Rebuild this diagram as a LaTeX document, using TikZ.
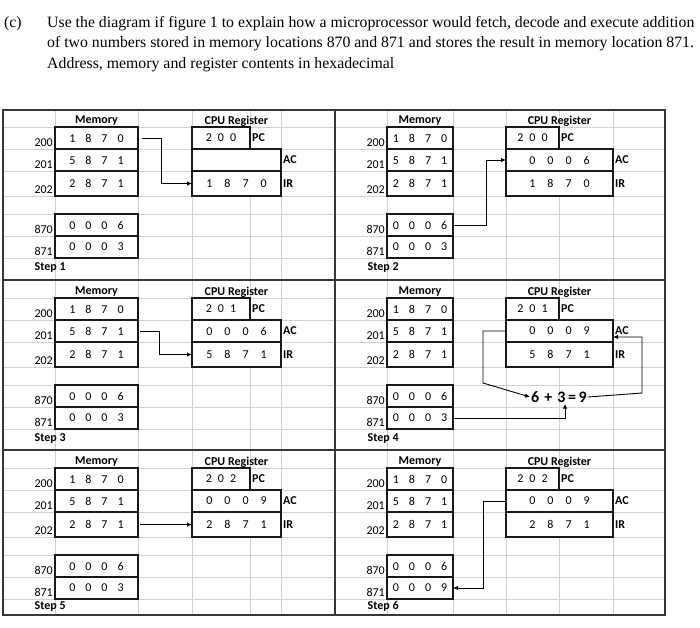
\documentclass[tikz,border=0pt]{standalone}
\usepackage{fontspec}
\setmainfont{Carlito}
\newfontfamily\timesfont{Liberation Serif}
\usetikzlibrary{arrows.meta, positioning}
\definecolor{gridgray}{RGB}{208,208,208}
\definecolor{framegray}{RGB}{55,55,55}

\begin{document}
\begin{tikzpicture}[
  x=1pt, y=-1pt,
  cell/.style={rectangle, draw=black!90, fill=white, line width=1.3pt, outer sep=0pt,
               inner sep=0pt, minimum height=22pt,
               font={\fontsize{12}{14}\selectfont\spaceskip=10pt}},
  memL/.style={cell, minimum width=83pt},
  memR/.style={cell, minimum width=66pt},
  pcL/.style={cell, minimum width=58pt, font={\fontsize{12}{14}\selectfont\spaceskip=6pt}},
  pcR/.style={cell, minimum width=53pt, font={\fontsize{12}{14}\selectfont\spaceskip=6pt}},
  regL/.style={cell, minimum width=89pt, font={\fontsize{12}{14}\selectfont\spaceskip=12pt}},
  regR/.style={cell, minimum width=107pt, font={\fontsize{12}{14}\selectfont\spaceskip=12pt}},
  addr/.style={anchor=south east, inner sep=2pt, font=\fontsize{12}{14}\selectfont},
  head/.style={inner sep=1pt, font=\fontsize{12}{14}\selectfont\bfseries},
  reglab/.style={anchor=west, inner sep=2pt, font=\fontsize{12}{14}\selectfont\bfseries},
  steplab/.style={anchor=north west, inner sep=1.5pt, font=\fontsize{12}{14}\selectfont\bfseries},
  sumlab/.style={inner sep=1pt, font={\fontsize{16}{18}\selectfont\bfseries\spaceskip=5pt}},
  arrow/.style={-{Latex[length=5pt, width=4.5pt]}, line width=0.9pt},
  grid/.style={gridgray, line width=0.7pt},
  frame/.style={framegray, line width=1.6pt},
]
\useasboundingbox (0,0) rectangle (700,627);

% Question
\node[anchor=north west, inner sep=0pt, font=\timesfont\fontsize{15.8}{20.5}\selectfont] (part) at (4,16) {(c)};
\node[anchor=north west, inner sep=0pt, align=left, font=\timesfont\fontsize{15.8}{20.5}\selectfont] (question) at (47,16)
  {Use the diagram if figure 1 to explain how a microprocessor would fetch, decode and execute addition\\
   of two numbers stored in memory locations 870 and 871 and stores the result in memory location 871.\\
   Address, memory and register contents in hexadecimal};

% Spreadsheet grid
\foreach \gx in {55,138,192,250,281,387,453,506,559,613}
  \draw[grid] (\gx,110) -- (\gx,615);
\foreach \gy in {127,149,171,196,214,236,258,298,320,342,367,385,407,429,468,490,512,537,555,577,599}
  \draw[grid] (3,\gy) -- (665,\gy);

% Step 1
\node[memL, anchor=north] (s1m200) at (96.5,127) {1 8 7 0};
\node[memL, below=0pt of s1m200] (s1m201) {5 8 7 1};
\node[memL, below=0pt of s1m201, minimum height=25pt] (s1m202) {2 8 7 1};
\node[memL, below=18pt of s1m202] (s1m870) {0 0 0 6};
\node[memL, below=0pt of s1m870] (s1m871) {0 0 0 3};
\node[head, above=0pt of s1m200] (s1mh) {Memory};
\node[addr] at (s1m200.south west) {200};
\node[addr] at (s1m201.south west) {201};
\node[addr] at (s1m202.south west) {202};
\node[addr] at (s1m870.south west) {870};
\node[addr] at (s1m871.south west) {871};
\node[pcL, right=54pt of s1m200] (s1pc) {2 0 0};
\node[regL, anchor=north west] (s1ac) at (s1pc.south west) {};
\node[regL, anchor=north west, minimum height=25pt] (s1ir) at (s1ac.south west) {1 8 7 0};
\node[head] at (s1ac.north |- s1mh) {CPU Register};
\node[reglab] at (s1pc.east) {PC};
\node[reglab] at (s1ac.east) {AC};
\node[reglab] at (s1ir.east) {IR};
\node[steplab] at ([xshift=-22pt, yshift=-3pt]s1m871.south west) {Step 1};
\draw[arrow] ([xshift=4pt]s1m200.east) -- ++(19,0) |- (s1ir.west);

% Step 2
\node[memR, anchor=north] (s2m200) at (420,127) {1 8 7 0};
\node[memR, below=0pt of s2m200] (s2m201) {5 8 7 1};
\node[memR, below=0pt of s2m201, minimum height=25pt] (s2m202) {2 8 7 1};
\node[memR, below=18pt of s2m202] (s2m870) {0 0 0 6};
\node[memR, below=0pt of s2m870] (s2m871) {0 0 0 3};
\node[head, above=0pt of s2m200] (s2mh) {Memory};
\node[addr] at (s2m200.south west) {200};
\node[addr] at (s2m201.south west) {201};
\node[addr] at (s2m202.south west) {202};
\node[addr] at (s2m870.south west) {870};
\node[addr] at (s2m871.south west) {871};
\node[pcR, right=53pt of s2m200] (s2pc) {2 0 0};
\node[regR, anchor=north west] (s2ac) at (s2pc.south west) {0 0 0 6};
\node[regR, anchor=north west, minimum height=25pt] (s2ir) at (s2ac.south west) {1 8 7 0};
\node[head] at (s2ac.north |- s2mh) {CPU Register};
\node[reglab] at (s2pc.east) {PC};
\node[reglab] at (s2ac.east) {AC};
\node[reglab] at (s2ir.east) {IR};
\node[steplab] at ([xshift=-21pt, yshift=-3pt]s2m871.south west) {Step 2};
\draw[arrow] (s2m870.east) -- ++(33,0) |- (s2ac.west);

% Step 3
\node[memL, anchor=north] (s3m200) at (96.5,298) {1 8 7 0};
\node[memL, below=0pt of s3m200] (s3m201) {5 8 7 1};
\node[memL, below=0pt of s3m201, minimum height=25pt] (s3m202) {2 8 7 1};
\node[memL, below=18pt of s3m202] (s3m870) {0 0 0 6};
\node[memL, below=0pt of s3m870] (s3m871) {0 0 0 3};
\node[head, above=0pt of s3m200] (s3mh) {Memory};
\node[addr] at (s3m200.south west) {200};
\node[addr] at (s3m201.south west) {201};
\node[addr] at (s3m202.south west) {202};
\node[addr] at (s3m870.south west) {870};
\node[addr] at (s3m871.south west) {871};
\node[pcL, right=54pt of s3m200] (s3pc) {2 0 1};
\node[regL, anchor=north west] (s3ac) at (s3pc.south west) {0 0 0 6};
\node[regL, anchor=north west, minimum height=25pt] (s3ir) at (s3ac.south west) {5 8 7 1};
\node[head] at (s3ac.north |- s3mh) {CPU Register};
\node[reglab] at (s3pc.east) {PC};
\node[reglab] at (s3ac.east) {AC};
\node[reglab] at (s3ir.east) {IR};
\node[steplab] at ([xshift=-22pt, yshift=-3pt]s3m871.south west) {Step 3};
\draw[arrow] ([xshift=2pt]s3m201.east) -- ++(19,0) |- (s3ir.west);

% Step 4
\node[memR, anchor=north] (s4m200) at (420,298) {1 8 7 0};
\node[memR, below=0pt of s4m200] (s4m201) {5 8 7 1};
\node[memR, below=0pt of s4m201, minimum height=25pt] (s4m202) {2 8 7 1};
\node[memR, below=18pt of s4m202] (s4m870) {0 0 0 6};
\node[memR, below=0pt of s4m870] (s4m871) {0 0 0 3};
\node[head, above=0pt of s4m200] (s4mh) {Memory};
\node[addr] at (s4m200.south west) {200};
\node[addr] at (s4m201.south west) {201};
\node[addr] at (s4m202.south west) {202};
\node[addr] at (s4m870.south west) {870};
\node[addr] at (s4m871.south west) {871};
\node[pcR, right=53pt of s4m200] (s4pc) {2 0 1};
\node[regR, anchor=north west] (s4ac) at (s4pc.south west) {0 0 0 9};
\node[regR, anchor=north west, minimum height=25pt] (s4ir) at (s4ac.south west) {5 8 7 1};
\node[head] at (s4ac.north |- s4mh) {CPU Register};
\node[reglab] at (s4pc.east) {PC};
\node[reglab] at (s4ac.east) {AC};
\node[reglab] at (s4ir.east) {IR};
\node[steplab] at ([xshift=-21pt, yshift=-3pt]s4m871.south west) {Step 4};
\node[sumlab] (s4sum) at (559,397) {6 + 3\,=\,9};
\draw[arrow] (s4ac.west) -- ++(-23,0) -- ++(0,52) -- (s4sum.west);
\draw[arrow] (s4m871.east) -| ([xshift=6pt]s4sum.south);
\draw[arrow] (s4sum.east) -- ++(54,-4) |- ([yshift=-6pt]s4ac.east);

% Step 5
\node[memL, anchor=north] (s5m200) at (96.5,468) {1 8 7 0};
\node[memL, below=0pt of s5m200] (s5m201) {5 8 7 1};
\node[memL, below=0pt of s5m201, minimum height=25pt] (s5m202) {2 8 7 1};
\node[memL, below=18pt of s5m202] (s5m870) {0 0 0 6};
\node[memL, below=0pt of s5m870] (s5m871) {0 0 0 3};
\node[head, above=0pt of s5m200] (s5mh) {Memory};
\node[addr] at (s5m200.south west) {200};
\node[addr] at (s5m201.south west) {201};
\node[addr] at (s5m202.south west) {202};
\node[addr] at (s5m870.south west) {870};
\node[addr] at (s5m871.south west) {871};
\node[pcL, right=54pt of s5m200] (s5pc) {2 0 2};
\node[regL, anchor=north west] (s5ac) at (s5pc.south west) {0 0 0 9};
\node[regL, anchor=north west, minimum height=25pt] (s5ir) at (s5ac.south west) {2 8 7 1};
\node[head] at (s5ac.north |- s5mh) {CPU Register};
\node[reglab] at (s5pc.east) {PC};
\node[reglab] at (s5ac.east) {AC};
\node[reglab] at (s5ir.east) {IR};
\node[steplab] at ([xshift=-22pt, yshift=-1pt]s5m871.south west) {Step 5};
\draw[arrow] ([xshift=2pt]s5m202.east) -- (s5ir.west);

% Step 6
\node[memR, anchor=north] (s6m200) at (420,468) {1 8 7 0};
\node[memR, below=0pt of s6m200] (s6m201) {5 8 7 1};
\node[memR, below=0pt of s6m201, minimum height=25pt] (s6m202) {2 8 7 1};
\node[memR, below=18pt of s6m202] (s6m870) {0 0 0 6};
\node[memR, below=0pt of s6m870] (s6m871) {0 0 0 9};
\node[head, above=0pt of s6m200] (s6mh) {Memory};
\node[addr] at (s6m200.south west) {200};
\node[addr] at (s6m201.south west) {201};
\node[addr] at (s6m202.south west) {202};
\node[addr] at (s6m870.south west) {870};
\node[addr] at (s6m871.south west) {871};
\node[pcR, right=53pt of s6m200] (s6pc) {2 0 2};
\node[regR, anchor=north west] (s6ac) at (s6pc.south west) {0 0 0 9};
\node[regR, anchor=north west, minimum height=25pt] (s6ir) at (s6ac.south west) {2 8 7 1};
\node[head] at (s6ac.north |- s6mh) {CPU Register};
\node[reglab] at (s6pc.east) {PC};
\node[reglab] at (s6ac.east) {AC};
\node[reglab] at (s6ir.east) {IR};
\node[steplab] at ([xshift=-21pt, yshift=-1pt]s6m871.south west) {Step 6};
\draw[arrow] (s6ac.west) -- ++(-23,0) |- (s6m871.east);

% Frame
\draw[frame] (3,110) rectangle (665,615);
\draw[frame] (335,110) -- (335,615);
\draw[frame] (3,280) -- (665,280);
\draw[frame] (3,450) -- (665,450);

\end{tikzpicture}
\end{document}
